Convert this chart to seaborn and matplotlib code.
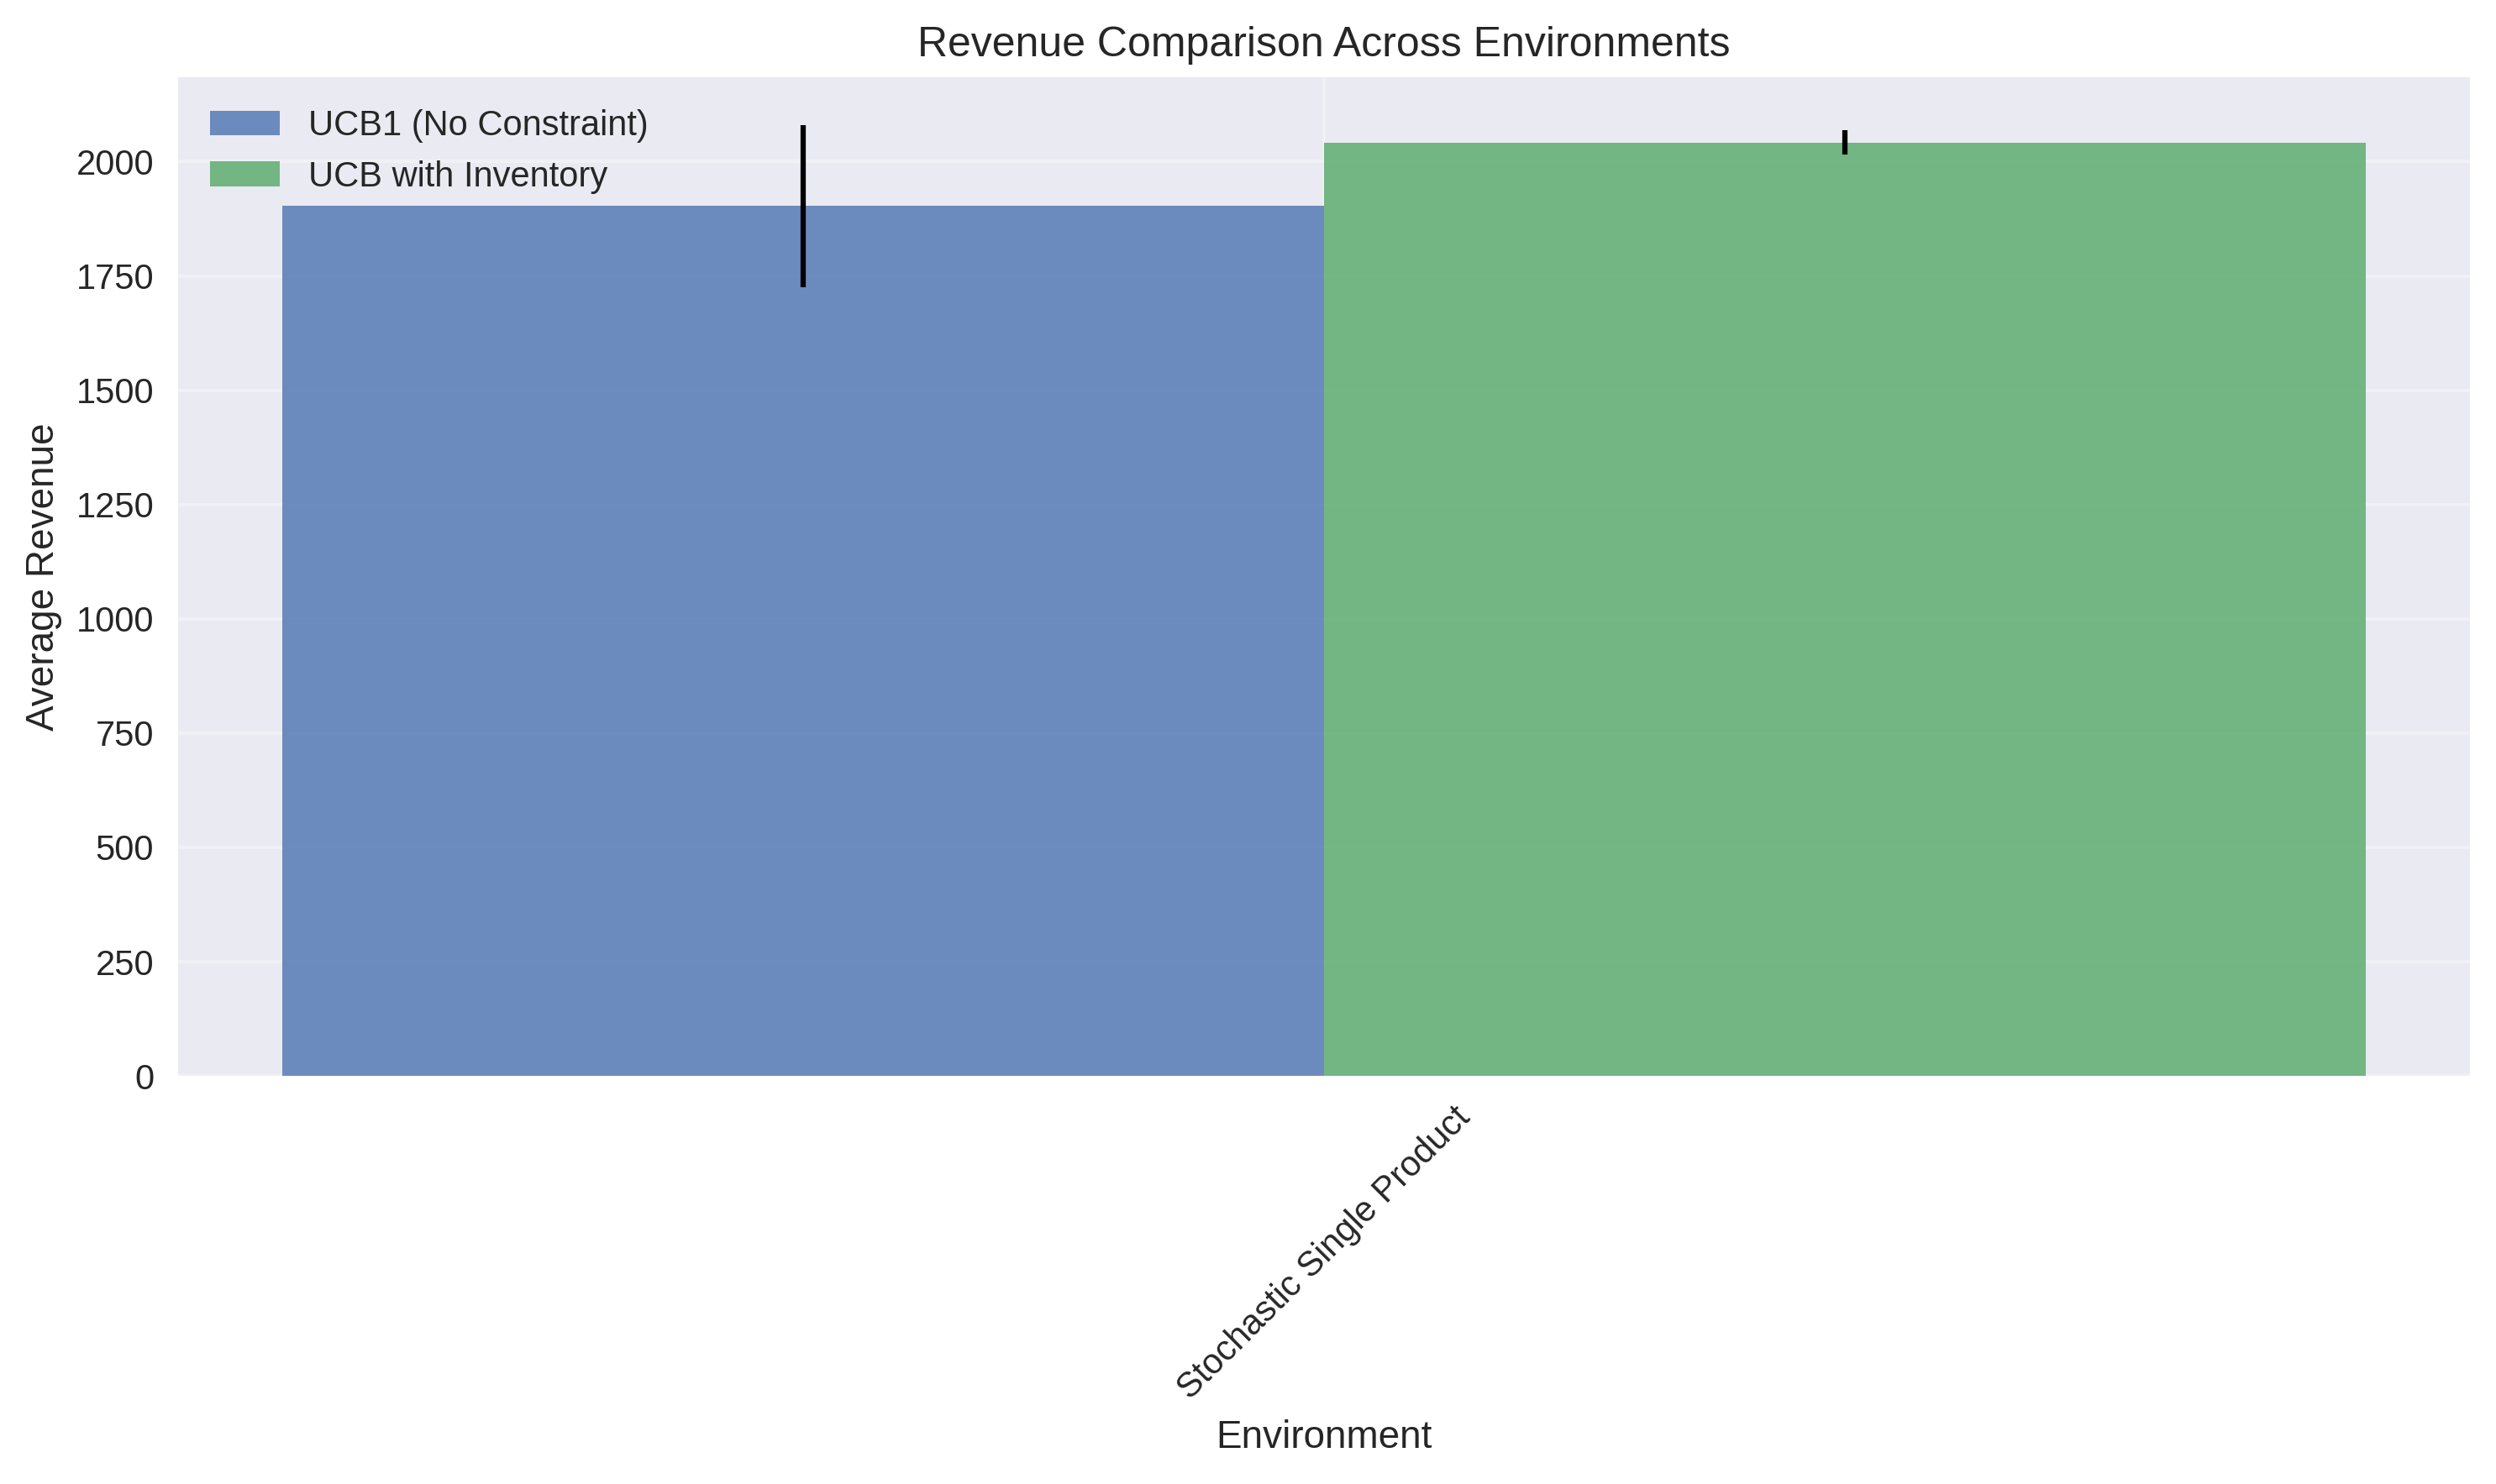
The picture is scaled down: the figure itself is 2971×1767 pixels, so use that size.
import matplotlib
matplotlib.use('Agg')
import matplotlib.pyplot as plt
import seaborn as sns
import pandas as pd

environments = ['Stochastic Single Product']
algorithms = ['UCB1 (No Constraint)', 'UCB with Inventory']
mean_revenue = [1903, 2042]
std_revenue = [177, 26]

plt.style.use('seaborn-v0_8')
plt.rcParams['font.family'] = ['Liberation Sans', 'DejaVu Sans']

df = pd.DataFrame({
    'Environment': environments * len(algorithms),
    'Algorithm': algorithms,
    'Revenue': mean_revenue,
})

fig, ax = plt.subplots(figsize=(2971 / 300, 1767 / 300))
sns.barplot(data=df, x='Environment', y='Revenue', hue='Algorithm',
            palette=['#4C72B0', '#55A868'], width=0.7, alpha=0.8,
            errorbar=None, saturation=1, linewidth=0, ax=ax)

# error bars at the centre of each bar
for patch, err in zip(ax.patches[:len(mean_revenue)], std_revenue):
    cx = patch.get_x() + patch.get_width() / 2
    ax.errorbar(cx, patch.get_height(), yerr=err, fmt='none',
                ecolor='black', elinewidth=1.5, capsize=0)

ax.autoscale(enable=True, axis='x')
ax.set_title('Revenue Comparison Across Environments')
ax.set_xlabel('Environment')
ax.set_ylabel('Average Revenue')
plt.xticks(rotation=45)
ax.grid(True, alpha=0.3)
ax.legend(loc='upper left')
plt.tight_layout(pad=0.75)
fig.savefig('out.png', dpi=300)
